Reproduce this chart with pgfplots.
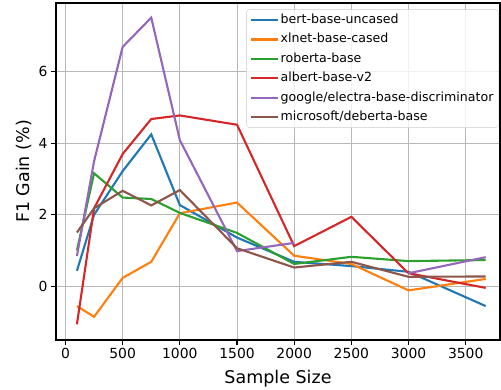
\documentclass[border=0pt]{standalone}
\usepackage{fontspec}
\setmainfont{DejaVu Sans}
\usepackage{pgfplots}
\pgfplotsset{compat=1.18}
\definecolor{c0}{HTML}{1F77B4}
\definecolor{c1}{HTML}{FF7F0E}
\definecolor{c2}{HTML}{2CA02C}
\definecolor{c3}{HTML}{D62728}
\definecolor{c4}{HTML}{9467BD}
\definecolor{c5}{HTML}{8C564B}
\begin{document}
\begin{tikzpicture}
\useasboundingbox (-56pt,-49pt) rectangle (445pt,340pt);
\begin{axis}[
  scale only axis, width=444pt, height=337pt,
  xmin=-83, xmax=3800, ymin=-1.51, ymax=7.93,
  xtick={0,500,1000,1500,2000,2500,3000,3500}, ytick={0,2,4,6},
  grid=major, grid style={color=black!28, line width=1pt},
  axis line style={line width=1.1pt},
  tick align=outside, tick pos=left, major tick length=4.9pt,
  tick style={line width=1.1pt, black},
  ticklabel style={font=\fontsize{13.9}{16}\selectfont},
  /pgf/number format/assume math mode=true,
  /pgf/number format/1000 sep={},
  xlabel={Sample Size}, ylabel={F1 Gain (\%)},
  xlabel style={at={(axis description cs:0.5,-0.089)}, anchor=north, inner sep=0pt, font=\fontsize{17.5}{20}\selectfont},
  ylabel style={at={(axis description cs:-0.072,0.5)}, anchor=center, inner sep=0pt, font=\fontsize{17.5}{20}\selectfont},
  unbounded coords=jump,
  every axis plot/.append style={line width=2.1pt},
  legend cell align=left,
  legend image code/.code={\draw[#1] (0pt,0pt) -- (27pt,0pt);},
  legend style={at={(rel axis cs:0.997,0.981)}, anchor=north east,
    font=\fontsize{12.6}{15}\selectfont, draw=black!20, rounded corners=3pt,
    fill=white, fill opacity=0.8, text opacity=1, row sep=2.4pt,
    inner xsep=3pt,
    nodes={inner sep=2pt, text height=10pt, text depth=3pt}},
]
\addplot[c0] coordinates {(100,0.43) (250,2.0) (500,3.22) (750,4.25) (1000,2.27) (1500,1.36) (2000,0.68) (2500,0.56) (3000,0.40) (3675,-0.56)};
\addlegendentry{bert-base-uncased}
\addplot[c1] coordinates {(100,-0.56) (250,-0.86) (500,0.23) (750,0.68) (1000,2.04) (1500,2.34) (2000,0.85) (2500,0.62) (3000,-0.12) (3675,0.20)};
\addlegendentry{xlnet-base-cased}
\addplot[c2] coordinates {(100,1.0) (250,3.16) (500,2.48) (750,2.44) (1000,2.05) (1500,1.49) (2000,0.62) (2500,0.82) (3000,0.70) (3675,0.73)};
\addlegendentry{roberta-base}
\addplot[c3] coordinates {(100,-1.07) (250,2.18) (500,3.70) (750,4.68) (1000,4.78) (1500,4.52) (2000,1.12) (2500,1.94) (3000,0.36) (3675,-0.05)};
\addlegendentry{albert-base-v2}
\addplot[c4] coordinates {(100,0.84) (250,3.5) (500,6.7) (750,7.52) (1000,4.09) (1500,0.98) (2000,1.21) (2500,nan) (3000,0.36) (3675,0.81)};
\addlegendentry{google/electra-base-discriminator}
\addplot[c5] coordinates {(100,1.5) (250,2.18) (500,2.67) (750,2.26) (1000,2.69) (1500,1.06) (2000,0.52) (2500,0.68) (3000,0.26) (3675,0.27)};
\addlegendentry{microsoft/deberta-base}
\end{axis}
\end{tikzpicture}
\end{document}
